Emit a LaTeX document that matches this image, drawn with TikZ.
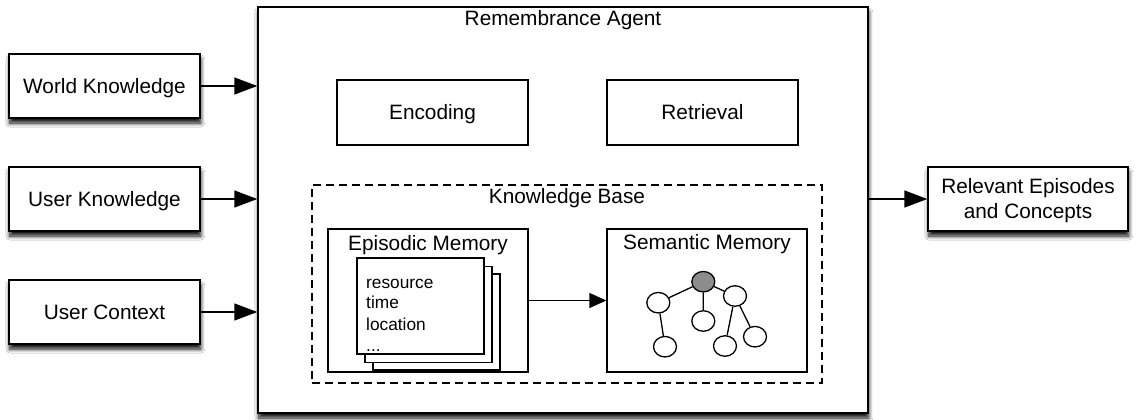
\documentclass[tikz,border=0pt]{standalone}
\usepackage{fontspec}
\setmainfont{Liberation Sans}
\usetikzlibrary{arrows.meta,shapes.geometric,shadows.blur}

\begin{document}
\begin{tikzpicture}[x=1pt,y=-1pt,
  font=\fontsize{20.8}{24.5}\selectfont,
  box/.style={draw=black, line width=1.4pt, fill=white, inner sep=0pt, align=center},
  oneline/.style={text height=14.9pt, text depth=0pt},
  shadowed/.style={blur shadow={shadow xshift=0.8pt, shadow yshift=-5pt,
      shadow blur radius=4pt, shadow blur steps=10, shadow opacity=95}},
  kbframe/.style={draw=black, line width=1.4pt, dash pattern=on 8pt off 5pt, inner sep=0pt},
  page/.style={draw=black, line width=1.4pt, fill=white, minimum width=127pt, minimum height=96pt, inner sep=0pt},
  pagetext/.style={font=\fontsize{17.3}{21}\selectfont, anchor=base west, inner sep=0pt},
  bigarrow/.style={line width=1.4pt, -{Triangle[length=23pt,width=17pt]}},
  smallarrow/.style={line width=1.4pt, -{Triangle[length=17pt,width=15pt]}},
  concept/.style={draw=black, line width=1.3pt, fill=white, ellipse, minimum width=23pt, minimum height=20.5pt, inner sep=0pt},
  label/.style={anchor=base, inner sep=0pt}
]
% canvas
\fill[white] (0,0) rectangle (1137,420);
\useasboundingbox (0,0) rectangle (1137,420);

% inputs
\node[box, oneline, shadowed, minimum width=191pt, minimum height=64pt] (wk) at (104.5,86) {World Knowledge};
\node[box, oneline, shadowed, minimum width=191pt, minimum height=64pt] (uk) at (104.5,199) {User Knowledge};
\node[box, oneline, shadowed, minimum width=191pt, minimum height=64pt] (uc) at (104.5,312) {User Context};

% agent
\node[box, shadowed, minimum width=610pt, minimum height=406pt] (agent) at (563,210) {};
\node[label] (agentlbl) at (563,26) {Remembrance Agent};

% output
\node[box, shadowed, minimum width=200pt, minimum height=64pt] (rel) at (1028,199) {};
\node[label] (rel1) at (1028,193.5) {Relevant Episodes};
\node[label] (rel2) at (1028,218) {and Concepts};

% processes
\node[box, oneline, minimum width=191pt, minimum height=65pt] (enc) at (432.5,112.5) {Encoding};
\node[box, oneline, minimum width=191pt, minimum height=65pt] (ret) at (702.5,112.5) {Retrieval};

% knowledge base
\node[kbframe, minimum width=510pt, minimum height=198pt] (kb) at (567,284) {};
\node[label] (kblbl) at (567,203) {Knowledge Base};

% episodic memory
\node[box, minimum width=200pt, minimum height=143pt] (ep) at (428,300.5) {};
\node[label] (eplbl) at (428,250) {Episodic Memory};
\node[page] (p3) at (436.5,322) {};
\node[page] (p2) at (428.5,314.5) {};
\node[page] (p1) at (420.5,306) {};
\node[pagetext] (t1) at (366,288) {resource};
\node[pagetext] (t2) at (366,308.5) {time};
\node[pagetext] (t3) at (366,330) {location};
\node[pagetext] (t4) at (366,351.5) {...};

% semantic memory
\node[box, minimum width=200pt, minimum height=143pt] (sem) at (707,300.5) {};
\node[label] (semlbl) at (707,249) {Semantic Memory};
\node[concept, fill={rgb,255:red,140;green,140;blue,140}] (c0) at (703.3,281.7) {};
\node[concept] (c1) at (658.3,302.7) {};
\node[concept] (c2) at (735,296) {};
\node[concept] (c3) at (703.3,321) {};
\node[concept] (c4) at (665,346.7) {};
\node[concept] (c5) at (725,346) {};
\node[concept] (c6) at (755,336.7) {};
\draw[line width=1.3pt] (c0) -- (c1) (c0) -- (c3) (c0) -- (c2)
  (c1) -- (c4) (c2) -- (c5) (c2) -- (c6);

% connectors
\draw[bigarrow] (wk.east) -- (wk.east -| agent.west);
\draw[bigarrow] (uk.east) -- (uk.east -| agent.west);
\draw[bigarrow] (uc.east) -- (uc.east -| agent.west);
\draw[bigarrow] (rel.west -| agent.east) -- (rel.west);
\draw[smallarrow] (ep.east) -- (sem.west);
\end{tikzpicture}
\end{document}
